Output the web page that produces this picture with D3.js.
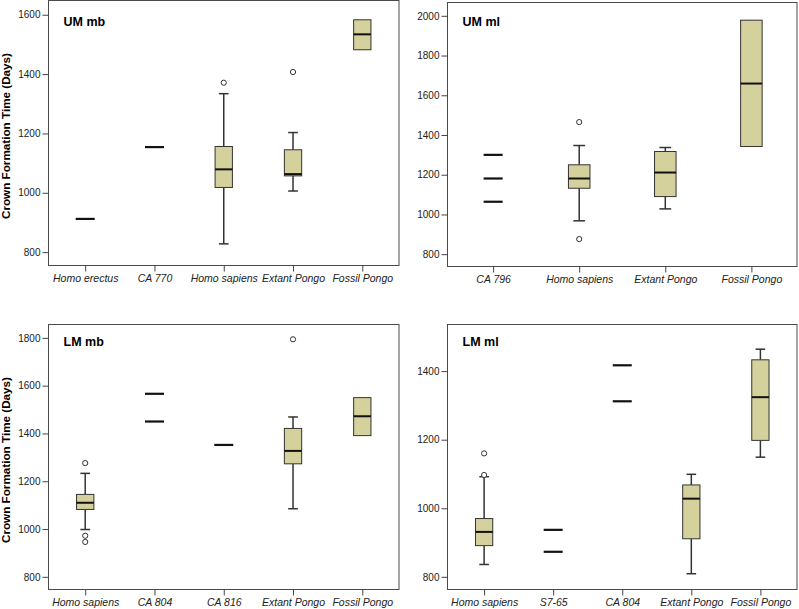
<!DOCTYPE html>
<html>
<head>
<meta charset="utf-8">
<script src="https://cdn.jsdelivr.net/npm/d3@7"></script>
<style>
  body { margin: 0; background: #fff; }
  svg { display: block; }
  text { font-family: "Liberation Sans", Arial, sans-serif; }
</style>
</head>
<body>
<svg id="chart" width="799" height="609"></svg>
<script>
// ---- data ----
// box = [low whisker, q1, median, q3, high whisker]; null = no box
var umMbCats = ["Homo erectus", "CA 770", "Homo sapiens", "Extant Pongo", "Fossil Pongo"];
var umMbBoxes = [null, null, [828, 1018, 1079, 1156, 1334], [1006, 1057, 1063, 1145, 1203], [1482, 1482, 1534, 1583, 1583]];
var umMbSingles = [[912], [1154], [], [], []];
var umMbOutliers = [[], [], [1371], [1407], []];
var umMbTicks = [800, 1000, 1200, 1400, 1600];

var umMlCats = ["CA 796", "Homo sapiens", "Extant Pongo", "Fossil Pongo"];
var umMlBoxes = [null, [968, 1132, 1181, 1250, 1347], [1028, 1090, 1211, 1317, 1337], [1342, 1342, 1659, 1978, 1978]];
var umMlSingles = [[1300, 1181, 1064], [], [], []];
var umMlOutliers = [[], [1465, 876], [], []];
var umMlTicks = [800, 1000, 1200, 1400, 1600, 1800, 2000];

var lmMbCats = ["Homo sapiens", "CA 804", "CA 816", "Extant Pongo", "Fossil Pongo"];
var lmMbBoxes = [[998, 1082, 1110, 1145, 1233], null, null, [1085, 1273, 1327, 1421, 1469], [1391, 1391, 1472, 1550, 1550]];
var lmMbSingles = [[], [1566, 1450], [1352], [], []];
var lmMbOutliers = [[1276, 972, 946], [], [], [1794], []];
var lmMbTicks = [800, 1000, 1200, 1400, 1600, 1800];

var lmMlCats = ["Homo sapiens", "S7-65", "CA 804", "Extant Pongo", "Fossil Pongo"];
var lmMlBoxes = [[836, 891, 931, 970, 1092], null, null, [809, 911, 1028, 1068, 1099], [1149, 1198, 1324, 1433, 1464]];
var lmMlSingles = [[], [937, 873], [1417, 1312], [], []];
var lmMlOutliers = [[1160, 1097], [], [], [], []];
var lmMlTicks = [800, 1000, 1200, 1400];

var yTitle = "Crown Formation Time (Days)";

// ---- layout ----
var panels = [
  {title: "UM mb", cats: umMbCats, boxes: umMbBoxes, singles: umMbSingles, outliers: umMbOutliers, ticks: umMbTicks,
   domain: [755, 1648], left: 48.5, right: 399, top: 0.5, bottom: 265.5, yLabel: true, titleDy: 25},
  {title: "UM ml", cats: umMlCats, boxes: umMlBoxes, singles: umMlSingles, outliers: umMlOutliers, ticks: umMlTicks,
   domain: [738, 2067], left: 447.5, right: 797, top: 2.5, bottom: 266.5, yLabel: false, titleDy: 23},
  {title: "LM mb", cats: lmMbCats, boxes: lmMbBoxes, singles: lmMbSingles, outliers: lmMbOutliers, ticks: lmMbTicks,
   domain: [747, 1856], left: 48.5, right: 399, top: 324.5, bottom: 589.5, yLabel: true, titleDy: 21.5},
  {title: "LM ml", cats: lmMlCats, boxes: lmMlBoxes, singles: lmMlSingles, outliers: lmMlOutliers, ticks: lmMlTicks,
   domain: [763, 1536], left: 447.5, right: 797, top: 324.5, bottom: 589.5, yLabel: false, titleDy: 21.5}
];

var svg = d3.select("#chart");
var fill = "#d5d19d";

panels.forEach(function(p) {
  var g = svg.append("g");

  var x = d3.scalePoint()
    .domain(p.cats)
    .range([p.left, p.right])
    .padding(0.53);
  var y = d3.scaleLinear()
    .domain(p.domain)
    .range([p.bottom, p.top]);
  var boxW = x.step() * 0.25;
  var lineW = 19;

  // frame
  g.append("rect")
    .attr("x", p.left).attr("y", p.top)
    .attr("width", p.right - p.left).attr("height", p.bottom - p.top)
    .attr("fill", "none").attr("stroke", "#4a4a4a").attr("stroke-width", 1);

  // axes
  var yAxis = g.append("g")
    .attr("transform", "translate(" + p.left + ",0)")
    .call(d3.axisLeft(y).tickValues(p.ticks).tickSize(6).tickPadding(2).tickFormat(d3.format("d")));
  var xAxis = g.append("g")
    .attr("transform", "translate(0," + p.bottom + ")")
    .call(d3.axisBottom(x).tickSize(6).tickPadding(3));
  [yAxis, xAxis].forEach(function(a) {
    a.select(".domain").remove();
    a.selectAll(".tick line").attr("stroke", "#444");
    a.selectAll(".tick text").attr("fill", "#222");
  });
  yAxis.selectAll(".tick text").attr("font-size", "10px");
  xAxis.selectAll(".tick text").attr("font-size", "10.5px").attr("font-style", "italic");

  // panel title
  g.append("text")
    .attr("x", p.left + 15)
    .attr("y", p.top + p.titleDy)
    .attr("font-size", "12.5px")
    .attr("font-weight", "bold")
    .text(p.title);

  if (p.yLabel) {
    g.append("text")
      .attr("transform", "translate(10," + ((p.top + p.bottom) / 2 + 3) + ") rotate(-90)")
      .attr("text-anchor", "middle")
      .attr("font-size", "11.7px")
      .attr("font-weight", "bold")
      .text(yTitle);
  }

  // boxes
  p.cats.forEach(function(c, i) {
    var cx = x(c);
    var b = p.boxes[i];
    if (b) {
      var cap = boxW / 2;
      if (b[0] < b[1]) {
        g.append("line").attr("x1", cx).attr("x2", cx).attr("y1", y(b[0])).attr("y2", y(b[1]))
          .attr("stroke", "#333").attr("stroke-width", 1.5);
        g.append("line").attr("x1", cx - cap / 2 - 0.5).attr("x2", cx + cap / 2 + 0.5).attr("y1", y(b[0])).attr("y2", y(b[0]))
          .attr("stroke", "#333").attr("stroke-width", 1.5);
      }
      if (b[4] > b[3]) {
        g.append("line").attr("x1", cx).attr("x2", cx).attr("y1", y(b[4])).attr("y2", y(b[3]))
          .attr("stroke", "#333").attr("stroke-width", 1.5);
        g.append("line").attr("x1", cx - cap / 2 - 0.5).attr("x2", cx + cap / 2 + 0.5).attr("y1", y(b[4])).attr("y2", y(b[4]))
          .attr("stroke", "#333").attr("stroke-width", 1.5);
      }
      g.append("rect")
        .attr("x", cx - boxW / 2).attr("y", y(b[3]))
        .attr("width", boxW).attr("height", y(b[1]) - y(b[3]))
        .attr("fill", fill).attr("stroke", "#333").attr("stroke-width", 1);
      g.append("line")
        .attr("x1", cx - boxW / 2).attr("x2", cx + boxW / 2)
        .attr("y1", y(b[2])).attr("y2", y(b[2]))
        .attr("stroke", "#111").attr("stroke-width", 2);
    }

    p.singles[i].forEach(function(v) {
      g.append("line")
        .attr("x1", cx - lineW / 2).attr("x2", cx + lineW / 2)
        .attr("y1", y(v)).attr("y2", y(v))
        .attr("stroke", "#111").attr("stroke-width", 2.2);
    });

    p.outliers[i].forEach(function(v) {
      g.append("circle")
        .attr("cx", cx).attr("cy", y(v)).attr("r", 2.6)
        .attr("fill", "#fff").attr("stroke", "#333").attr("stroke-width", 1);
    });
  });
});
</script>
</body>
</html>
